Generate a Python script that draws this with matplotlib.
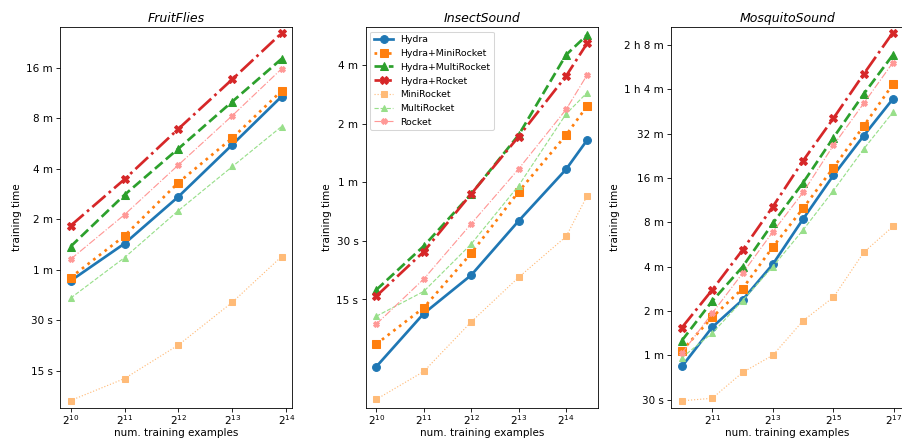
import numpy as np
import matplotlib
matplotlib.use("Agg")
import matplotlib.pyplot as plt
from matplotlib.ticker import NullLocator, FixedLocator, FixedFormatter

# ---------------- data (training time in seconds) ----------------
methods = ["Hydra", "Hydra+MiniRocket", "Hydra+MultiRocket", "Hydra+Rocket",
           "MiniRocket", "MultiRocket", "Rocket"]

fruit_n = [1024, 2048, 4096, 8192, 15400]
fruit_hydra = [51.6, 86.1, 164, 335, 648]
fruit_hydra_mini = [54, 95.7, 199, 367, 700]
fruit_hydra_multi = [82.6, 168, 317, 605, 1086]
fruit_hydra_rocket = [110, 208, 416, 822, 1545]
fruit_mini = [9.98, 13.5, 21.4, 38.5, 72]
fruit_multi = [40.7, 71, 135.5, 248, 429]
fruit_rocket = [69.4, 128, 253.5, 499, 947]

insect_n = [1024, 2048, 4096, 8192, 16384, 22300]
insect_hydra = [6.77, 12.7, 20.0, 38, 70, 99]
insect_hydra_mini = [8.85, 13.6, 25.9, 53.7, 105, 148]
insect_hydra_multi = [16.8, 28.2, 52.3, 105, 271, 343]
insect_hydra_rocket = [15.6, 26.4, 52.3, 103, 211, 311]
insect_mini = [4.6, 6.4, 11.5, 19.5, 31.6, 51.2]
insect_multi = [12.3, 16.5, 28.9, 57.7, 134.7, 173.4]
insect_rocket = [11.2, 19.1, 36.7, 70.3, 142, 214]

mosq_n = [1024, 2048, 4096, 8192, 16384, 32768, 65536, 127500]
mosq_hydra = [50.3, 93, 142.5, 249, 506, 1001, 1860, 3301]
mosq_hydra_mini = [64.5, 108.7, 170, 326, 598, 1128, 2164, 4152]
mosq_hydra_multi = [75.5, 140, 239, 472, 892, 1804, 3570, 6570]
mosq_hydra_rocket = [92.5, 166.7, 311, 613, 1259, 2441, 4880, 9313]
mosq_mini = [29.4, 30.6, 45.8, 60, 103, 148.6, 300, 449]
mosq_multi = [57.8, 84.7, 141, 240, 426, 788, 1511, 2680]
mosq_rocket = [61.9, 115.7, 216, 413, 767, 1600, 3085, 5828]

titles = ["FruitFlies", "InsectSound", "MosquitoSound"]

fruit_yticks = [15, 30, 60, 120, 240, 480, 960]
fruit_ylabels = ["15 s", "30 s", "1 m", "2 m", "4 m", "8 m", "16 m"]
insect_yticks = [15, 30, 60, 120, 240]
insect_ylabels = ["15 s", "30 s", "1 m", "2 m", "4 m"]
mosq_yticks = [30, 60, 120, 240, 480, 960, 1920, 3840, 7680]
mosq_ylabels = ["30 s", "1 m", "2 m", "4 m", "8 m", "16 m", "32 m", "1 h 4 m", "2 h 8 m"]

fruit_xexp = [10, 11, 12, 13, 14]
insect_xexp = [10, 11, 12, 13, 14]
mosq_xexp = [11, 13, 15, 17]

# ---------------- styles ----------------
styles = {
    "Hydra": dict(color="#1f77b4", ls="-", marker="o", lw=2.6, ms=7.5),
    "Hydra+MiniRocket": dict(color="#ff7f0e", ls=":", marker="s", lw=2.6, ms=7.5),
    "Hydra+MultiRocket": dict(color="#2ca02c", ls="--", marker="^", lw=2.6, ms=7.5),
    "Hydra+Rocket": dict(color="#d62728", ls="-.", marker="X", lw=2.6, ms=7.5),
    "MiniRocket": dict(color="#ffbb78", ls=":", marker="s", lw=1.1, ms=5.2),
    "MultiRocket": dict(color="#98df8a", ls="--", marker="^", lw=1.1, ms=5.2),
    "Rocket": dict(color="#ff9896", ls="-.", marker="X", lw=1.1, ms=5.2),
}

panels = [
    (fruit_n, [fruit_hydra, fruit_hydra_mini, fruit_hydra_multi, fruit_hydra_rocket,
               fruit_mini, fruit_multi, fruit_rocket],
     fruit_yticks, fruit_ylabels, fruit_xexp, (9.05, 1684)),
    (insect_n, [insect_hydra, insect_hydra_mini, insect_hydra_multi, insect_hydra_rocket,
                insect_mini, insect_multi, insect_rocket],
     insect_yticks, insect_ylabels, insect_xexp, (4.17, 377)),
    (mosq_n, [mosq_hydra, mosq_hydra_mini, mosq_hydra_multi, mosq_hydra_rocket,
              mosq_mini, mosq_multi, mosq_rocket],
     mosq_yticks, mosq_ylabels, mosq_xexp, (26.4, 10176)),
]

W, H = 902, 441
fig = plt.figure(figsize=(12.03, 5.881), dpi=75)

lefts = [60.0, 365.6, 671.2]
axw = 232.0
bottom_px = 441 - 407.7
axh = 407.7 - 27.0

for i, (xs, ys_list, yt, yl, xe, ylim) in enumerate(panels):
    ax = fig.add_axes([lefts[i] / W, bottom_px / H, axw / W, axh / H])
    for name, ys in zip(methods, ys_list):
        st = styles[name]
        ax.plot(xs, ys, color=st["color"], linestyle=st["ls"], marker=st["marker"],
                linewidth=st["lw"], markersize=st["ms"], label=name)
    ax.set_xscale("log", base=2)
    ax.set_yscale("log", base=2)
    ax.xaxis.set_major_locator(FixedLocator([2.0 ** e for e in xe]))
    ax.xaxis.set_major_formatter(FixedFormatter(["$\\mathdefault{2^{%d}}$" % e for e in xe]))
    ax.xaxis.set_minor_locator(NullLocator())
    ax.yaxis.set_major_locator(FixedLocator(yt))
    ax.yaxis.set_major_formatter(FixedFormatter(yl))
    ax.yaxis.set_minor_locator(NullLocator())
    ax.set_ylim(*ylim)
    ax.set_title(titles[i], fontstyle="italic", fontsize=12, pad=5)
    ax.set_xlabel("num. training examples", fontsize=10, labelpad=1.5)
    ax.set_ylabel("training time", fontsize=10)
    ax.tick_params(axis="both", labelsize=10)
    ax.tick_params(axis="x", pad=1.5)
    if i == 1:
        ax.legend(loc="upper left", fontsize=9)

fig.savefig("out.png", dpi=75)
